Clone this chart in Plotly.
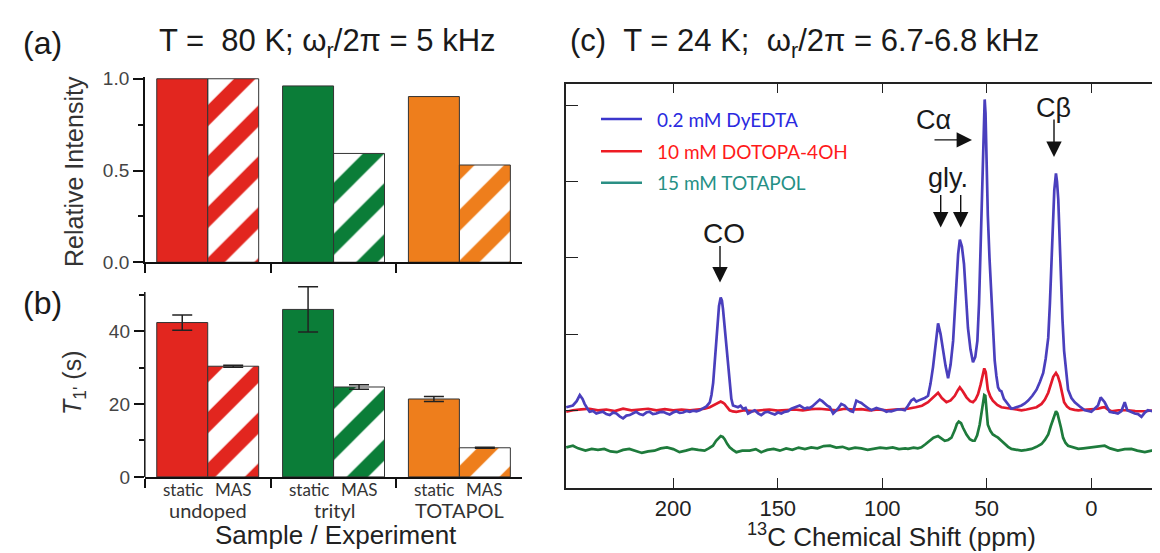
import plotly.graph_objects as go

W, H = 1160, 553

# ---------------- data ----------------
samples = ["undoped", "trityl", "TOTAPOL"]
bar_colors = ["#e2261f", "#0b7d38", "#ee7e1c"]
rel_static = [1.0, 0.961, 0.903]
rel_mas = [1.0, 0.593, 0.53]
t1_static = [42.4, 46.0, 21.4]
t1_static_err = [2.1, 6.2, 0.7]
t1_mas = [30.4, 24.7, 8.0]
t1_mas_err = [0.3, 0.6, 0.15]

blue_ppm = [251.2, 248.0, 246.2, 244.7, 243.4, 242.4, 241.0, 240.0, 238.4, 236.8, 235.2, 233.6, 232.0, 230.4,
            228.8, 227.2, 225.6, 224.0, 222.4, 220.8, 219.2, 217.7, 216.1, 214.5, 212.9, 211.3, 209.7, 208.1,
            206.5, 204.9, 203.3, 201.7, 200.1, 198.5, 196.9, 195.3, 193.7, 192.1, 190.5, 188.9, 187.3, 185.7,
            184.1, 182.5, 181.7, 180.9, 180.1, 179.3, 178.7, 178.1, 177.3, 176.7, 176.2, 175.4, 174.6, 173.8,
            173.0, 172.2, 171.4, 170.2, 169.0, 167.8, 166.6, 165.4, 164.2, 162.6, 161.0, 159.4, 157.9, 156.3,
            154.7, 153.1, 151.4, 149.9, 148.3, 146.7, 145.1, 143.5, 141.5, 139.5, 138.3, 137.1, 135.9, 134.7,
            133.5, 132.3, 131.1, 129.9, 128.7, 127.5, 126.3, 125.1, 123.5, 122.3, 121.2, 119.6, 118.0, 116.4,
            115.2, 114.0, 112.4, 111.2, 110.0, 108.8, 107.6, 106.4, 105.2, 104.0, 102.8, 101.6, 100.4, 99.2,
            98.0, 96.8, 95.7, 94.0, 92.4, 90.8, 89.2, 87.7, 86.1, 84.9, 83.7, 82.5, 81.3, 79.7, 78.1, 76.9,
            75.7, 74.5, 73.3, 72.1, 70.9, 69.7, 68.5, 67.3, 66.1, 65.3, 64.5, 63.7, 62.9, 61.9, 60.9, 60.0,
            59.0, 57.8, 56.6, 55.5, 54.5, 53.7, 52.9, 52.3, 51.8, 51.4, 51.0, 50.6, 50.2, 49.5, 48.7, 47.9,
            47.0, 46.2, 45.4, 44.6, 43.8, 43.0, 41.8, 40.6, 39.4, 38.2, 37.0, 35.8, 34.6, 33.4, 31.8, 30.2,
            28.2, 26.2, 24.6, 23.0, 21.8, 20.6, 19.8, 19.0, 18.4, 17.7, 16.9, 16.4, 15.8, 15.2, 14.6, 13.8,
            13.0, 12.0, 11.1, 9.5, 7.9, 5.5, 3.1, 1.5, 0.0, -1.6, -3.2, -4.5, -5.4, -6.4, -7.6, -8.8, -10.7,
            -12.7, -14.4, -16.0, -17.2, -19.0, -20.8, -22.4, -24.0, -25.6, -27.1, -28.8, -30.4, -32.8, -35.1,
            -36.7]
blue_int = [0.04, 0.063, 0.12, 0.20, 0.15, 0.084, 0.02, -0.02, -0.01, -0.043, -0.03, -0.02, -0.05, -0.063,
            -0.03, -0.043, -0.08, -0.106, -0.07, -0.063, -0.04, -0.02, -0.05, -0.063, -0.03, -0.02, -0.05, -0.043,
            -0.025, -0.02, -0.04, -0.055, -0.03, -0.013, -0.035, -0.03, -0.01, -0.02, -0.005, -0.013, 0.0, 0.02,
            0.05, 0.105, 0.2, 0.36, 0.62, 0.91, 1.18, 1.37, 1.48, 1.44, 1.33, 1.08, 0.82, 0.55,
            0.32, 0.15, 0.063, 0.05, 0.04, 0.06, 0.02, 0.03, -0.043, -0.02, 0.0, -0.04, -0.063, -0.03,
            -0.02, -0.04, -0.055, -0.03, -0.043, -0.02, -0.013, 0.02, 0.04, 0.063, 0.04, 0.02, 0.035, 0.03,
            0.05, 0.084, 0.12, 0.14, 0.12, 0.084, 0.06, 0.042, -0.043, -0.01, 0.02, 0.084, 0.063, 0.013,
            -0.01, -0.02, 0.127, 0.11, 0.096, 0.07, 0.042, 0.02, 0.0, 0.02, 0.03, 0.02, 0.013, 0.0,
            -0.02, -0.01, -0.013, 0.0, 0.013, 0.01, 0.0, 0.06, 0.13, 0.15, 0.114, 0.13, 0.14, 0.16, 0.19, 0.35,
            0.57, 0.85, 1.14, 1.0, 0.78, 0.58, 0.42, 0.6, 0.91, 1.3, 1.75, 2.05, 2.24, 2.15, 1.92, 1.5,
            1.08, 0.8, 0.63, 0.7, 0.91, 1.4, 2.17, 2.9, 3.44, 3.85, 4.08, 3.9, 3.4, 2.56, 2.0, 1.5,
            1.0, 0.65, 0.45, 0.3, 0.26, 0.25, 0.15, 0.105, 0.05, 0.02, 0.03, 0.04, 0.05, 0.063, 0.09, 0.127,
            0.19, 0.27, 0.37, 0.49, 0.68, 0.95, 1.4, 1.92, 2.4, 2.89, 3.11, 3.0, 2.77, 2.25, 1.71, 1.2,
            0.78, 0.45, 0.27, 0.16, 0.105, 0.05, 0.0, -0.01, -0.02, 0.02, 0.063, 0.17, 0.14, 0.105, 0.04, -0.02, -0.03,
            -0.043, -0.01, 0.105, 0.0, -0.02, -0.043, -0.05, -0.085, -0.03, 0.0, -0.01, -0.02, -0.035, -0.043,
            -0.063]

red_ppm = [251.2, 248, 244, 240, 236, 232, 228, 224, 220, 216, 212, 208, 204, 200, 196, 192, 188, 185, 182.5,
           180.5, 179.3, 177.3, 176.2, 175.4, 174.2, 173.0, 171.5, 169.8, 166, 162, 158, 154, 150, 146, 142,
           138, 134, 130, 126, 122, 118, 114, 110, 106, 102, 98, 94, 90, 87.7, 84, 81, 78.1, 75.5, 73.3, 71.5,
           69.3, 67.3, 65.3, 63.9, 62.9, 61.5, 59.7, 58, 56.6, 55.4, 54.2, 53, 51.8, 51.2, 50.5, 49.5, 48.3,
           47.1, 45, 43.0, 40.6, 38.2, 35.8, 33.4, 31, 28.6, 26.2, 23.8, 22.2, 20.6, 19.4, 18.2, 16.9, 16.0,
           15.0, 14.0, 13.0, 11.6, 10.2, 8, 6.2, 2, -1.6, -3.2, -5, -6.4, -8, -9.6, -13, -17.6, -21, -25.6,
           -30, -33, -36.7]
red_int = [-0.02, 0.0, 0.013, 0.02, 0.0, 0.01, -0.01, 0.02, 0.0, 0.01, 0.02, 0.0, 0.015, 0.0, 0.01, 0.0, 0.01,
           0.02, 0.04, 0.07, 0.084, 0.114, 0.1, 0.084, 0.04, 0.0, -0.015, -0.02, 0.0, -0.01, 0.0, 0.01, -0.005,
           0.0, 0.01, 0.0, 0.015, 0.02, 0.01, 0.0, 0.02, 0.01, 0.015, 0.0, 0.01, 0.0, 0.01, 0.02, 0.02, 0.04,
           0.06, 0.105, 0.18, 0.23, 0.16, 0.105, 0.13, 0.19, 0.26, 0.3, 0.25, 0.17, 0.12, 0.105, 0.14, 0.21,
           0.33, 0.49, 0.55, 0.5, 0.27, 0.18, 0.127, 0.07, 0.04, 0.03, 0.02, 0.01, 0.0, 0.01, 0.02, 0.04, 0.084,
           0.14, 0.23, 0.34, 0.44, 0.49, 0.45, 0.36, 0.22, 0.105, 0.05, 0.02, 0.005, 0.0, 0.01, 0.015, 0.02,
           0.035, 0.04, 0.01, -0.013, 0.0, 0.0, -0.01, -0.013, 0.0, -0.01, 0.0]

green_ppm = [251.2, 249.5, 248, 245.5, 242, 239, 236, 233, 230, 227, 224, 221, 218, 215, 212, 209, 206, 203,
             200, 197, 194, 191, 188, 185, 183, 181, 179.5, 178.7, 177.3, 176.3, 175.4, 174.2, 173, 171.5,
             169.8, 167, 163.4, 160.5, 157.9, 155, 152, 149, 146, 143, 140, 137, 134, 131, 128, 125, 122, 119,
             116, 113, 110, 107, 104, 101, 98, 95, 92, 89, 87.7, 85, 83, 81.3, 79.5, 77.3, 75.5, 73.3, 72,
             70.1, 68.5, 66.9, 65.3, 64.3, 63.4, 62.3, 61.3, 59.7, 58.1, 56.8, 55.8, 54.6, 53.4, 52.6, 51.8,
             51.2, 50.7, 50.1, 49.5, 48.3, 47.1, 45.8, 44.6, 43, 41.4, 39.8, 38.2, 35.8, 33.4, 31, 28.6, 26.2,
             23.8, 22.2, 20.6, 19.4, 18.2, 16.9, 16.2, 15.5, 14.5, 13.5, 12.3, 11.1, 8.7, 6.2, 3.8, 1.4, -1.6,
             -4, -6.4, -9, -12.7, -16, -19.2, -22, -25.6, -28.8, -32, -34.5, -36.7]
green_int = [-0.487, -0.47, -0.465, -0.50, -0.53, -0.507, -0.52, -0.507, -0.54, -0.55, -0.52, -0.507, -0.53,
             -0.56, -0.54, -0.53, -0.50, -0.487, -0.51, -0.55, -0.53, -0.507, -0.52, -0.53, -0.50, -0.465,
             -0.40, -0.38, -0.338, -0.35, -0.38, -0.44, -0.487, -0.52, -0.55, -0.53, -0.53, -0.51, -0.55,
             -0.52, -0.507, -0.53, -0.50, -0.52, -0.49, -0.51, -0.487, -0.50, -0.47, -0.465, -0.49, -0.48,
             -0.51, -0.49, -0.50, -0.52, -0.507, -0.49, -0.50, -0.487, -0.51, -0.50, -0.507, -0.49, -0.50,
             -0.487, -0.45, -0.40, -0.36, -0.338, -0.36, -0.40, -0.39, -0.36, -0.26, -0.18, -0.148, -0.17,
             -0.233, -0.32, -0.38, -0.40, -0.40, -0.33, -0.19, -0.03, 0.105, 0.2, 0.19, 0.02, -0.19, -0.27,
             -0.317, -0.34, -0.36, -0.40, -0.443, -0.48, -0.507, -0.52, -0.53, -0.52, -0.507, -0.48, -0.443,
             -0.39, -0.317, -0.21, -0.106, -0.013, -0.04, -0.106, -0.23, -0.36, -0.43, -0.465, -0.49, -0.507,
             -0.50, -0.49, -0.487, -0.47, -0.465, -0.50, -0.53, -0.51, -0.507, -0.53, -0.55, -0.53, -0.53,
             -0.52, -0.53]

ppm_ticks = [200, 150, 100, 50, 0]
spec_names = ["0.2 mM DyEDTA", "10 mM DOTOPA-4OH", "15 mM TOTAPOL"]

# ---------------- helpers ----------------
def X(px):
    return px / W


def Y(py):
    return 1 - py / H


SANS = "Liberation Sans, Arial, Helvetica, sans-serif"
HUM = "Lato, Open Sans, sans-serif"

fig = go.Figure()

hatch = dict(shape="/", fillmode="replace", bgcolor=bar_colors, fgcolor=["#ffffff"] * 3,
             fgopacity=1, size=36, solidity=0.42)

# panel (a) bars
fig.add_trace(go.Bar(x=samples, y=rel_static, xaxis="x", yaxis="y", name="static",
                     marker=dict(color=bar_colors, line=dict(color="#333", width=1)),
                     showlegend=False))
fig.add_trace(go.Bar(x=samples, y=rel_mas, xaxis="x", yaxis="y", name="MAS",
                     marker=dict(color=bar_colors, line=dict(color="#333", width=1), pattern=hatch),
                     showlegend=False))
# panel (b) bars
fig.add_trace(go.Bar(x=samples, y=t1_static, xaxis="x2", yaxis="y2", name="static",
                     marker=dict(color=bar_colors, line=dict(color="#333", width=1)),
                     error_y=dict(type="data", array=t1_static_err, color="#222", thickness=1.5, width=10),
                     showlegend=False))
fig.add_trace(go.Bar(x=samples, y=t1_mas, xaxis="x2", yaxis="y2", name="MAS",
                     marker=dict(color=bar_colors, line=dict(color="#333", width=1), pattern=hatch),
                     error_y=dict(type="data", array=t1_mas_err, color="#222", thickness=1.5, width=10),
                     showlegend=False))

# panel (c) spectra
spec_colors = ["#4a3fbd", "#e3192b", "#1e7b3c"]
fig.add_trace(go.Scatter(x=green_ppm, y=green_int, xaxis="x3", yaxis="y3", mode="lines",
                         line=dict(color=spec_colors[2], width=2.7), name=spec_names[2], showlegend=False))
fig.add_trace(go.Scatter(x=red_ppm, y=red_int, xaxis="x3", yaxis="y3", mode="lines",
                         line=dict(color=spec_colors[1], width=2.7), name=spec_names[1], showlegend=False))
fig.add_trace(go.Scatter(x=blue_ppm, y=blue_int, xaxis="x3", yaxis="y3", mode="lines",
                         line=dict(color=spec_colors[0], width=2.7), name=spec_names[0], showlegend=False))

bar_x = dict(type="category", range=[-0.5, 2.5], showline=True, linecolor="#111", linewidth=1.5,
             ticks="outside", tickson="boundaries", ticklen=9, tickwidth=1.5, tickcolor="#111",
             showticklabels=False, showgrid=False, zeroline=False)
ytick_font = dict(family=SANS, size=19, color="#444")

B_TOP = 53.5  # range top of panel (b) so that the tall error bar is not clipped
b_bottom_px = 477.3
b_px_per_unit = 3.77

fig.update_layout(
    width=W, height=H, margin=dict(l=0, r=0, t=0, b=0),
    paper_bgcolor="white", plot_bgcolor="white",
    barmode="group", bargap=0.19, bargroupgap=0,
    xaxis=dict(domain=[X(136.8), X(514.3)], anchor="y", **bar_x),
    yaxis=dict(domain=[Y(255), Y(63.1)], anchor="x", range=[0, 1.01], showline=True, linecolor="#111",
               linewidth=1.5, ticks="outside", ticklen=10, tickwidth=1.5, tickcolor="#111",
               tickvals=[0, 0.5, 1.0], ticktext=["0.0", "0.5", "1.0"], tickfont=ytick_font,
               minor=dict(tickvals=[0.25, 0.75], ticks="outside", ticklen=5, tickwidth=1.5, tickcolor="#111"),
               showgrid=False, zeroline=False),
    xaxis2=dict(domain=[X(136.8), X(514.3)], anchor="y2", **bar_x),
    yaxis2=dict(domain=[Y(b_bottom_px), Y(b_bottom_px - B_TOP * b_px_per_unit)], anchor="x2",
                range=[0, B_TOP], showline=False,
                ticks="outside", ticklen=10, tickwidth=1.5, tickcolor="#111",
                tickvals=[0, 20, 40], tickfont=ytick_font,
                minor=dict(tickvals=[10, 30, 50], ticks="outside", ticklen=5, tickwidth=1.5, tickcolor="#111"),
                showgrid=False, zeroline=False),
    xaxis3=dict(domain=[X(558), 1.0], anchor="y3", range=[251.3, -36.7], showline=True, mirror="ticks",
                linecolor="#222", linewidth=1.5, ticks="inside", ticklen=10, tickwidth=1.2, tickcolor="#222",
                tickvals=ppm_ticks, tickfont=dict(family=SANS, size=22, color="#222"),
                showgrid=False, zeroline=False),
    yaxis3=dict(domain=[Y(488.3), Y(70)], anchor="x3", range=[-1.014, 4.288], showline=True,
                linecolor="#222", linewidth=1.5, ticks="inside", ticklen=12, tickwidth=1.2, tickcolor="#222",
                tickvals=[0, 1, 2, 3, 4], showticklabels=False, showgrid=False, zeroline=False),
)

anns = []


def txt(text, px, py, size, color="#1a1a1a", family=SANS, xanchor="center", angle=0):
    anns.append(dict(text=text, x=X(px), y=Y(py), xref="paper", yref="paper", showarrow=False,
                     xanchor=xanchor, yanchor="middle", textangle=angle,
                     font=dict(family=family, size=size, color=color)))


def arrow(tip_px, tip_py, tail_px, tail_py):
    anns.append(dict(text="", x=X(tip_px), y=Y(tip_py), xref="paper", yref="paper", showarrow=True,
                     ax=tail_px - tip_px, ay=tail_py - tip_py, axref="pixel", ayref="pixel",
                     arrowhead=2, arrowsize=2.2, arrowwidth=1.4, arrowcolor="#111", standoff=0,
                     startstandoff=0))


NB = "\u00a0"
txt("(a)", 12.5, 28, 32, xanchor="left")
txt("T =" + NB + NB + "80 K; ω<sub>r</sub>/2π = 5 kHz", 319.7, 28, 31)
txt("(b)", 12.5, 297, 32, xanchor="left")
txt("(c)" + NB + NB + "T = 24 K;" + NB + NB + "ω<sub>r</sub>/2π = 6.7-6.8 kHz", 560, 28, 31, xanchor="left")

txt("Relative Intensity", 66, 161.5, 25, color="#333", angle=-90)
txt("<i>T</i><sub>1ʹ</sub> (s)", 66, 380, 25, color="#333", angle=-90)

# category labels under panel (b)
group_px = [200.2, 326.0, 451.4]
for i, name in enumerate(samples):
    gx = group_px[i]
    txt("static", gx - 25.5, 490.5, 17, color="#333", family=HUM)
    txt("MAS", gx + 25.5, 490.5, 17, color="#333", family=HUM)
    txt(name, gx, 511.5, 20, color="#333", family=HUM)
txt("Sample / Experiment", 327.5, 537, 26, color="#222")

# panel (c) labels
txt("<sup>13</sup>C Chemical Shift (ppm)", 883, 537.5, 26, color="#222")
txt("CO", 715.5, 225, 28)
arrow(712, 276, 712, 238)
txt("gly.", 940, 168, 27)
arrow(932.7, 219, 932.7, 185)
arrow(952.7, 219, 952.7, 185)
txt("Cα", 925, 108, 27)
arrow(964, 128.3, 925, 128.3)
txt("Cβ", 1045, 95, 27)
arrow(1046, 146, 1046, 107)

# axis line of panel (b), stopping just above the top minor tick
shapes = [dict(type="line", xref="paper", yref="y2", x0=X(136.8), x1=X(136.8), y0=0, y1=50.8,
               line=dict(color="#111", width=1.5))]

# legend
leg_line_colors = ["#3b36cc", "#ee1c24", "#2a8f84"]
leg_text_colors = ["#2a2ae0", "#ff1a1a", "#259085"]
leg_py = [106.7, 140, 172.7]
for i in range(3):
    shapes.append(dict(type="line", xref="paper", yref="paper", x0=X(593), x1=X(634),
                       y0=Y(leg_py[i]), y1=Y(leg_py[i]), line=dict(color=leg_line_colors[i], width=2.5)))
    txt(spec_names[i], 647, leg_py[i], 19, color=leg_text_colors[i], family=HUM, xanchor="left")

fig.update_layout(annotations=anns, shapes=shapes)
fig.write_html("out.html")
